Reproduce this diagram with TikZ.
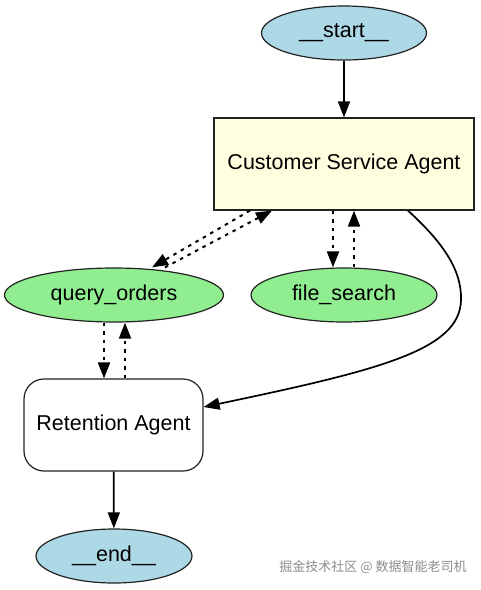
\documentclass[tikz,border=0pt]{standalone}
\usepackage{fontspec}
\setmainfont{Liberation Sans}
\newfontfamily\cjk{Noto Sans CJK SC}
\usetikzlibrary{shapes.geometric,arrows.meta}
\definecolor{startblue}{HTML}{ADD8E6}
\definecolor{toolgreen}{HTML}{90EE90}
\definecolor{agentyellow}{HTML}{FFFFE0}
\definecolor{edgegray}{HTML}{222222}
\tikzset{
  lbl/.style={font=\fontsize{21.5}{24}\selectfont, text=black},
  terminal/.style={lbl, ellipse, draw=edgegray, line width=1.2pt, fill=startblue, inner sep=0pt},
  toolnode/.style={lbl, ellipse, draw=edgegray, line width=1.2pt, fill=toolgreen, inner sep=0pt, minimum height=54pt},
  agentbox/.style={lbl, rectangle, draw=edgegray, line width=1.2pt, fill=agentyellow, minimum width=260pt, minimum height=92pt},
  retbox/.style={lbl, rectangle, rounded corners=20pt, draw=edgegray, line width=1.2pt, fill=white, minimum width=179pt, minimum height=92pt},
  solidedge/.style={line width=1.7pt, -{Triangle[length=16pt,width=12pt]}},
  dotedge/.style={line width=2pt, dash pattern=on 3.5pt off 5pt, -{Triangle[length=16pt,width=12pt]}},
}
\begin{document}
\begin{tikzpicture}[x=1pt,y=-1pt]
\useasboundingbox (0,0) rectangle (481,590);
\node[terminal, minimum width=165pt, minimum height=54pt] (start) at (344,33) {\_\_start\_\_};
\node[agentbox] (csa) at (344,164) {Customer Service Agent};
\node[toolnode, minimum width=219pt] (qo) at (114,295) {query\_orders};
\node[toolnode, minimum width=186pt] (fs) at (344,295) {file\_search};
\node[retbox] (ret) at (113.5,425) {Retention Agent};
\node[terminal, minimum width=156pt, minimum height=54pt] (end) at (114,556) {\_\_end\_\_};
\node[font=\cjk\fontsize{13}{15}\selectfont, text=black!45] (wm) at (373,567) {掘金技术社区 @ 数据智能老司机};

\draw[solidedge] (start) -- (csa);
\draw[dotedge] ([xshift=-94pt]csa.south) -- ([xshift=38pt]qo.north);
\draw[dotedge] ([xshift=51pt]qo.north) -- ([xshift=-72pt]csa.south);
\draw[dotedge] ([xshift=-11pt]csa.south) -- ([xshift=-11pt]fs.north);
\draw[dotedge] ([xshift=10pt]fs.north) -- ([xshift=10pt]csa.south);
\draw[dotedge] ([xshift=-10pt]qo.south) -- ([xshift=-9.5pt]ret.north);
\draw[dotedge] ([xshift=11.5pt]ret.north) -- ([xshift=11pt]qo.south);
\draw[line width=1.7pt, -{Triangle[length=16pt,width=12pt]}]
  ([xshift=64pt]csa.south) .. controls (440,240) and (462,268) .. (461,300)
  .. controls (460,350) and (380,370) .. (ret.east |- 0,407);
\draw[solidedge] (ret) -- (end);
\end{tikzpicture}
\end{document}
